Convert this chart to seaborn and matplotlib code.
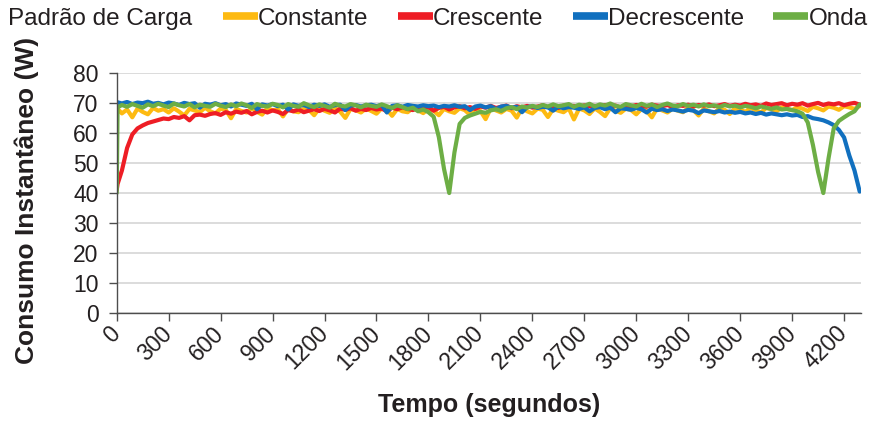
import numpy as np
import pandas as pd
import matplotlib
matplotlib.use("Agg")
import matplotlib.pyplot as plt
from matplotlib.lines import Line2D
import seaborn as sns

# ---------------- data ----------------
tempo = np.concatenate([[0, 5], np.arange(30, 4291, 30)])

constante = [
    69.0, 68.0, 66.5, 67.8, 65.2, 68.1, 67.0, 66.2, 68.3, 67.4,
    67.9, 66.8, 68.2, 67.1, 65.8, 68.0, 67.5, 66.9, 68.4, 67.2,
    66.5, 68.1, 67.6, 64.9, 68.0, 67.3, 66.8, 68.2, 67.0, 66.1,
    68.3, 67.5, 67.9, 65.5, 68.1, 67.2, 66.9, 68.0, 67.7, 65.9,
    68.2, 67.4, 66.7, 68.3, 67.1, 65.0, 68.0, 67.6, 66.8, 68.1,
    67.3, 66.4, 68.2, 67.8, 65.7, 68.0, 67.2, 66.9, 68.3, 67.5,
    66.6, 68.1, 67.4, 65.9, 68.0, 67.2, 66.7, 68.2, 67.6, 66.0,
    68.1, 67.3, 64.6, 68.2, 67.5, 66.8, 68.0, 67.4, 65.1, 68.3,
    67.2, 66.5, 68.1, 67.7, 65.3, 68.0, 67.4, 66.9, 68.2, 64.5,
    68.1, 67.5, 66.3, 68.2, 67.0, 65.6, 68.3, 67.4, 66.7, 68.1,
    67.6, 66.2, 68.0, 67.3, 65.2, 68.2, 67.5, 66.8, 68.1, 67.4,
    66.9, 68.3, 67.6, 65.8, 68.1, 67.2, 66.5, 68.2, 67.7, 66.3,
    68.2, 67.8, 67.0, 68.4, 67.5, 66.8, 68.3, 67.9, 67.2, 68.5,
    68.0, 67.6, 68.6, 68.1, 67.3, 68.7, 68.2, 67.5, 68.8, 68.4,
    67.7, 68.9, 68.5, 68.0, 69.0,
]

crescente = [
    41.0, 43.0, 47.5, 55.0, 59.5, 61.5, 62.5, 63.3, 63.8, 64.3,
    64.8, 64.6, 65.3, 65.0, 65.6, 64.2, 65.9, 66.1, 65.7, 66.3,
    66.6, 66.0, 66.9, 66.4, 67.1, 66.7, 67.3, 66.2, 67.0, 67.4,
    66.8, 67.5, 67.0, 66.3, 67.6, 67.2, 67.8, 66.9, 67.4, 67.9,
    67.3, 68.0, 67.5, 66.8, 68.1, 67.7, 68.2, 67.4, 68.0, 67.6,
    68.3, 67.8, 68.1, 67.2, 68.4, 67.9, 68.5, 68.0, 67.6, 68.4,
    68.1, 68.6, 67.4, 68.3, 68.7, 67.8, 68.5, 68.9, 68.2, 68.6,
    68.0, 68.8, 68.4, 69.0, 68.3, 68.7, 69.1, 68.2, 68.9, 68.5,
    69.0, 68.4, 68.8, 69.2, 68.6, 68.9, 68.3, 69.1, 68.7, 69.0,
    68.5, 69.2, 68.8, 69.0, 68.6, 69.3, 68.9, 69.1, 68.4, 69.2,
    68.8, 69.3, 69.0, 68.7, 69.4, 69.1, 68.9, 69.3, 68.6, 69.2,
    69.0, 69.4, 68.8, 69.3, 69.1, 69.5, 68.9, 69.2, 69.6, 69.0,
    69.4, 69.1, 69.7, 69.2, 69.5, 69.0, 69.8, 69.3, 69.6, 69.9,
    69.2, 69.7, 69.4, 69.9, 69.1, 69.6, 70.0, 69.3, 69.8, 69.5,
    69.9, 69.2, 69.7, 70.0, 69.4,
]

decrescente = [
    70.0, 70.2, 69.8, 70.3, 69.6, 70.1, 69.9, 70.4, 69.7, 70.0,
    69.5, 70.1, 69.8, 69.3, 70.0, 69.6, 69.9, 68.4, 69.7, 69.4,
    69.9, 69.2, 69.6, 68.8, 69.8, 69.4, 69.0, 69.7, 67.9, 69.5,
    69.1, 69.6, 68.9, 69.4, 67.8, 69.5, 69.0, 69.3, 68.6, 69.4,
    69.0, 69.5, 68.7, 69.2, 69.4, 67.6, 69.1, 69.3, 68.8, 69.2,
    69.4, 68.9, 69.3, 66.8, 69.0, 69.2, 68.7, 69.3, 69.0, 68.8,
    69.2, 68.9, 69.1, 68.6, 69.0, 68.8, 69.2, 68.7, 68.9, 67.6,
    68.8, 69.1, 68.5, 68.9, 67.9, 68.8, 69.0, 68.4, 68.7, 66.9,
    68.6, 68.9, 68.3, 68.7, 68.5, 67.4, 68.8, 68.2, 68.6, 68.4,
    68.0, 68.5, 67.2, 68.3, 68.6, 67.9, 68.4, 66.9, 68.2, 68.0,
    67.7, 68.3, 67.9, 66.8, 68.1, 67.6, 67.9, 67.3, 67.8, 67.5,
    67.1, 67.7, 67.4, 66.6, 67.5, 67.2, 66.9, 67.3, 66.8, 67.1,
    66.7, 67.0, 66.5, 66.8, 66.3, 66.7, 66.1, 66.5, 66.2, 65.9,
    66.2, 65.8, 66.0, 65.3, 65.6, 64.9, 64.6, 64.2, 63.5, 62.6,
    61.0, 58.5, 52.5, 47.5, 40.5,
]

onda = [
    40.0, 68.5, 69.3, 68.7, 69.6, 69.0, 68.4, 69.5, 68.9, 69.7,
    69.1, 68.6, 69.8, 69.2, 68.8, 69.6, 68.5, 69.4, 69.0, 68.7,
    69.7, 69.1, 68.6, 69.5, 68.9, 69.8, 69.2, 68.3, 69.6, 69.0,
    68.8, 69.7, 69.3, 68.5, 69.6, 69.0, 68.7, 69.9, 69.2, 68.6,
    69.5, 69.0, 68.4, 69.7, 69.1, 68.8, 69.6, 69.2, 68.5, 69.4,
    69.0, 68.7, 69.5, 68.9, 68.3, 69.2, 68.6, 67.9, 68.4, 67.2,
    67.8, 66.9, 65.4, 58.6, 48.0, 40.0, 53.5, 63.0, 65.0, 65.8,
    66.4, 67.0, 66.7, 67.5, 67.9, 67.3, 68.2, 68.6, 67.9, 68.8,
    68.4, 69.0, 68.6, 69.3, 68.8, 69.5, 68.9, 69.2, 69.6, 68.7,
    69.4, 69.0, 69.7, 68.8, 69.5, 69.1, 69.8, 69.0, 68.7, 69.6,
    69.2, 68.8, 69.7, 69.0, 69.5, 68.6, 69.3, 69.8, 69.1, 68.9,
    69.6, 69.0, 69.4, 68.8, 69.5, 68.9, 69.2, 68.6, 69.3, 68.8,
    69.1, 68.5, 69.0, 68.7, 68.2, 68.8, 68.4, 68.0, 68.5, 67.8,
    68.0, 67.6, 67.2, 66.4, 63.5, 56.0, 47.0, 40.0, 51.5, 61.5,
    64.0, 65.2, 66.3, 67.2, 69.5,
]

series_names = ["Constante", "Crescente", "Decrescente", "Onda"]
series_colors = ["#FDBA12", "#EE1D25", "#1170BF", "#6DAE45"]
x_ticks = list(range(0, 4201, 300))
y_ticks = list(range(0, 81, 10))

df = pd.concat(
    [pd.DataFrame({"Tempo": tempo, "Consumo": vals, "Padrão": name})
     for name, vals in zip(series_names, [constante, crescente, decrescente, onda])],
    ignore_index=True,
)

# ---------------- style ----------------
sns.set_theme(style="white")
plt.rcParams["font.family"] = ["Liberation Sans", "DejaVu Sans"]

text_color = "#231F20"
axis_color = "#4D4D4D"

fig = plt.figure(figsize=(8.71, 4.21), dpi=100)
ax = fig.add_axes([0.134, 0.256, 0.855, 0.571])

sns.lineplot(data=df, x="Tempo", y="Consumo", hue="Padrão", hue_order=series_names,
             palette=dict(zip(series_names, series_colors)), estimator=None, sort=False,
             linewidth=3.0, legend=False, ax=ax)

ax.set_xlim(0, 4300)
ax.set_ylim(0, 80)
ax.set_xticks(x_ticks)
ax.set_xticklabels([str(v) for v in x_ticks], rotation=45, ha="right", va="center",
                   rotation_mode="anchor")
ax.set_yticks(y_ticks)
ax.yaxis.grid(True, color="#D9D9D9", linewidth=1.3)
ax.set_axisbelow(True)
for s in ["top", "right"]:
    ax.spines[s].set_visible(False)
for s in ["left", "bottom"]:
    ax.spines[s].set_color(axis_color)
    ax.spines[s].set_linewidth(1.0)
ax.tick_params(axis="both", direction="out", length=6, width=1.0, color=axis_color,
               labelsize=16.5, labelcolor=text_color)
ax.tick_params(axis="y", pad=7, left=True)
ax.tick_params(axis="x", pad=6, bottom=True)

ax.set_xlabel("Tempo (segundos)", fontsize=18, fontweight="bold", color=text_color)
ax.set_ylabel("Consumo Instantâneo (W)", fontsize=19, fontweight="bold", color=text_color)
ax.xaxis.set_label_coords(0.5, -0.33)
ax.xaxis.label.set_va("top")
ax.yaxis.set_label_coords(-0.105, 0.47)

handles = [Line2D([0], [0], color=c, linewidth=5.5, solid_capstyle="butt") for c in series_colors]
leg = fig.legend(handles, series_names, loc="center right", bbox_to_anchor=(0.996, 0.955),
                 ncol=4, frameon=False, handlelength=1.45, handletextpad=0.0,
                 columnspacing=1.2, borderaxespad=0.0, borderpad=0.0,
                 prop={"family": ["Liberation Sans"], "size": 17.5})
for t in leg.get_texts():
    t.set_color(text_color)
fig.text(0.009, 0.955, "Padrão de Carga", ha="left", va="center", color=text_color,
         family=["Liberation Sans"], fontsize=17.5)

fig.savefig("out.png", dpi=100)
